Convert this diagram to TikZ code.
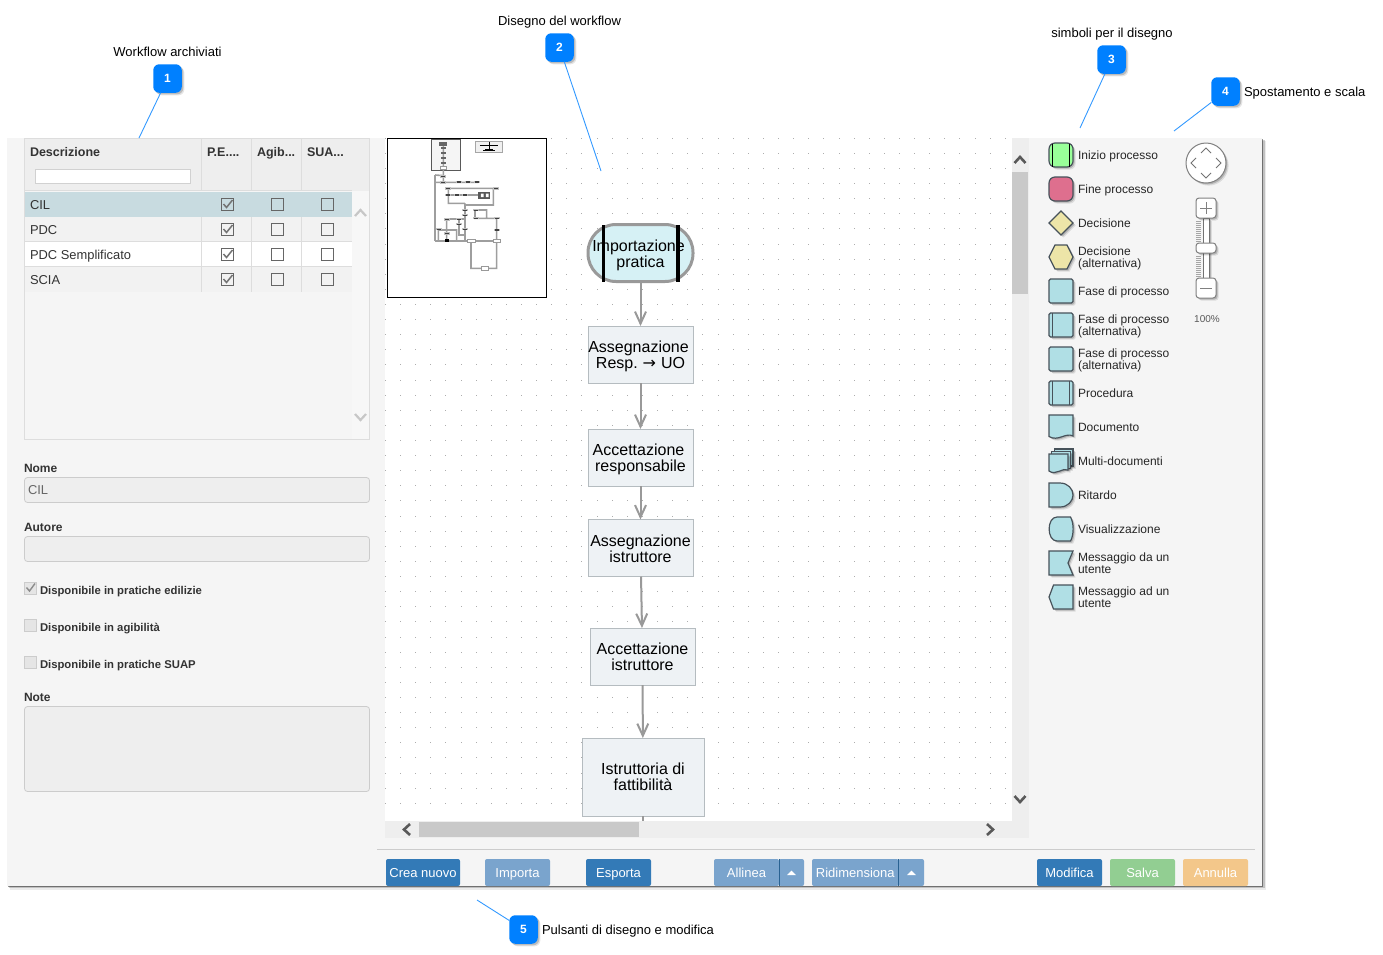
\documentclass[tikz,border=0pt]{standalone}
\usepackage{fontspec}
\setmainfont{Liberation Sans}
\newfontfamily\arrowfont{DejaVu Sans}
\usetikzlibrary{arrows.meta}
\definecolor{panelbg}{HTML}{F5F5F5}
\definecolor{gridline}{HTML}{DDDDDD}
\definecolor{hdr}{HTML}{EEEEEE}
\definecolor{selrow}{HTML}{C8DBE0}
\definecolor{altrow}{HTML}{F2F2F2}
\definecolor{inkdark}{HTML}{333333}
\definecolor{btndark}{HTML}{337AB7}
\definecolor{btnlight}{HTML}{7AA4CD}
\definecolor{btngreen}{HTML}{92CE92}
\definecolor{btnorange}{HTML}{F3C78A}
\definecolor{badgeblue}{HTML}{0080FF}
\definecolor{leader}{HTML}{3399FF}
\definecolor{flowline}{HTML}{999999}
\definecolor{procfill}{HTML}{EEF2F5}
\definecolor{procline}{HTML}{B5BCC0}
\definecolor{startfill}{HTML}{D6F1F5}
\definecolor{palline}{HTML}{47525A}
\definecolor{palblue}{HTML}{B0DFE5}
\definecolor{palyellow}{HTML}{EDE5A8}
\definecolor{palgreen}{HTML}{99FF99}
\definecolor{palpink}{HTML}{DE6F8E}
\definecolor{scrolltrack}{HTML}{EEEEEE}
\definecolor{scrollthumb}{HTML}{C9C9C9}
\newcommand{\flowtop}[1]{\rule{0pt}{#1pt}}
\tikzset{
  x=1pt,y=-1pt,
  softshadow/.style={preaction={fill=black,opacity=.10,draw=none,transform canvas={shift={(2.6pt,-2.6pt)}}},
                     preaction={fill=black,opacity=.18,draw=none,transform canvas={shift={(1.5pt,-1.5pt)}}}},
  caption/.style={inner sep=0,outer sep=0,text=black,anchor=base,font=\fontsize{13}{13}\selectfont},
  badge/.style={softshadow,fill=badgeblue,rounded corners=6pt,minimum size=28.5pt,inner sep=0,outer sep=0,text=white,font=\fontsize{12}{12}\bfseries\selectfont},
  leaderline/.style={draw=leader,line width=.9pt},
  uitext/.style={inner sep=0,outer sep=0,anchor=base west,text=inkdark,font=\fontsize{12.9}{12.9}\selectfont},
  uibold/.style={uitext,font=\fontsize{12.5}{12.5}\bfseries\selectfont},
  formbold/.style={uitext,font=\fontsize{11.3}{12}\bfseries\selectfont},
  inputbox/.style={draw=black!20,fill=hdr,rounded corners=3pt,line width=.8pt},
  tick/.style={draw=black!60,line width=.9pt,fill=none},
  checkmark/.style={draw=black!55,line width=1.5pt},
  disabledbox/.style={draw=black!20,fill=black!10,line width=.7pt},
  flowtext/.style={inner sep=0,outer sep=0,align=center,text=black,font=\fontsize{16}{16}\selectfont},
  flowproc/.style={flowtext,draw=procline,fill=procfill,line width=1pt},
  flowarrow/.style={draw=flowline,line width=2pt,-{Straight Barb[length=12pt,width=11pt]}},
  uibtn/.style={rounded corners=2pt,inner sep=0,outer sep=0,minimum height=27pt,text height=10.5pt,text depth=1.5pt,text=white,font=\fontsize{13}{13}\selectfont},
  palshape/.style={draw=palline,line width=1.2pt,softshadow,fill=#1},
  pallabel/.style={inner sep=0,outer sep=0,anchor=west,align=left,yshift=-.6pt,text=black!85,font=\fontsize{12}{12}\selectfont},
  scrollchev/.style={draw=black!65,line width=2.6pt,line cap=butt},
  lightchev/.style={draw=black!22,line width=2.2pt},
  navchev/.style={draw=black!55,line width=.8pt},
  ctrl/.style={draw=black!50,fill=white,rounded corners=3pt,line width=1pt,softshadow},
  mini/.style={draw=black!38,line width=1.6pt},
  minibox/.style={draw=black!40,fill=white,line width=.6pt},
}
\newcommand{\uibutton}[5]{\node[uibtn,fill=#4,minimum width={#3-#2}] (#1) at ({(#2+#3)/2},872.5) {#5};}
\newcommand{\caretup}[1]{\fill[white] (#1-4.5,875) -- (#1+4.5,875) -- (#1,870.5) -- cycle;}
\begin{document}
\begin{tikzpicture}
\useasboundingbox (0,0) rectangle (1383,954);
% panel
\fill[black,opacity=.08] (10,141) rectangle (1266,890);
\fill[black,opacity=.18] (9,140) rectangle (1264.6,888.4);
\fill[black,opacity=.42] (8,139) rectangle (1263.4,887);
\fill[panelbg] (7,138) rectangle (1262.3,886);
% table
\fill[white!97!black] (24,138) rectangle (370,440);
\fill[panelbg] (24,138) rectangle (352,440);
\fill[hdr] (24,138) rectangle (370,191);
\draw[gridline,line width=1pt] (24,190.5) -- (352,190.5);
\fill[selrow] (25,192) rectangle (352,217);
\fill[altrow] (25,217) rectangle (352,242);
\fill[white] (25,242) rectangle (352,267);
\fill[altrow] (25,267) rectangle (352,292);
\draw[gridline,line width=.9pt] (25,241.5) -- (352,241.5) (25,266.5) -- (352,266.5);
\foreach \cx in {201.5,251.5,301.5} \draw[gridline,line width=1pt] (\cx,138) -- (\cx,191) (\cx,217) -- (\cx,292);
\draw[gridline,line width=1pt] (24.5,138.5) rectangle (369.5,439.5);
\node[uibold,anchor=base west] (hd) at (30,156) {Descrizione};
\node[uibold] (hp) at (207,156) {P.E....};
\node[uibold] (ha) at (257,156) {Agib...};
\node[uibold] (hs) at (307,156) {SUA...};
\draw[draw=black!18,fill=white,line width=1pt] (35.5,169.5) rectangle (190.5,183.5);
\node[uitext] (r1) at (30,209) {CIL};
\node[uitext] (r2) at (30,234) {PDC};
\node[uitext] (r3) at (30,259) {PDC Semplificato};
\node[uitext] (r4) at (30,284) {SCIA};
\foreach \ry in {204,229,254,279}{
  \draw[tick] (221.3,\ry-6) rectangle (233.5,\ry+6);
  \draw[checkmark] (223.5,\ry) -- (226.5,\ry+3.5) -- (232.5,\ry-4);
  \draw[tick] (271.3,\ry-6) rectangle (283.5,\ry+6);
  \draw[tick] (321.3,\ry-6) rectangle (333.5,\ry+6);
}
\draw[lightchev] (355,216) -- (360.5,210) -- (366,216);
\draw[lightchev] (355,414) -- (360.5,420) -- (366,414);
% form
\node[uibold,font=\fontsize{12}{12}\bfseries\selectfont] (lnome) at (24,472) {Nome};
\draw[inputbox] (24.5,477.5) rectangle (369.5,502.5);
\node[uitext,text=black!60] (vnome) at (28,494.5) {CIL};
\node[uibold,font=\fontsize{12}{12}\bfseries\selectfont] (lautore) at (24,531) {Autore};
\draw[inputbox] (24.5,536.5) rectangle (369.5,561.5);
\draw[disabledbox] (24.5,582) rectangle (36.5,594);
\draw[draw=black!45,line width=1.4pt] (26.5,587.5) -- (29.5,591) -- (35,583.5);
\node[formbold] (c1) at (40,594) {Disponibile in pratiche edilizie};
\draw[disabledbox] (24.5,619) rectangle (36.5,631);
\node[formbold] (c2) at (40,631) {Disponibile in agibilità};
\draw[disabledbox] (24.5,656) rectangle (36.5,668);
\node[formbold] (c3) at (40,668) {Disponibile in pratiche SUAP};
\node[uibold,font=\fontsize{12}{12}\bfseries\selectfont] (lnote) at (24,701) {Note};
\draw[inputbox] (24.5,706.5) rectangle (369.5,791.5);
% canvas
\fill[white] (385,138) rectangle (1012,821);
\foreach \j in {0,...,44}
  \foreach \i in {0,...,41}
    \fill[black!32] ({385.4+15.12*\i-.5},{138.2+15.115*\j-.5}) rectangle +(1,1);
% scroll bars
\fill[scrolltrack] (1012,138) rectangle (1029,838);
\fill[scrolltrack] (385,821) rectangle (1029,838);
\fill[scrollthumb] (1012,172) rectangle (1028,294);
\fill[scrollthumb] (419,822) rectangle (639,837);
\draw[scrollchev] (1014.5,163) -- (1020,157) -- (1025.5,163);
\draw[scrollchev] (1014.5,796) -- (1020,802) -- (1025.5,796);
\draw[scrollchev] (410,824) -- (404,829.5) -- (410,835);
\draw[scrollchev] (987,824) -- (993,829.5) -- (987,835);
% minimap
\draw[fill=white,draw=black,line width=1pt] (387.5,138.5) rectangle (546.5,297.5);
\begin{scope}[shift={(385,135)},x=.3333pt,y=-.3333pt]
  \draw[draw=black!65,fill=panelbg,line width=1pt] (139,12) rectangle (226,107);
  \draw[minibox,draw=black!35,fill=black!6] (271,18) rectangle (353,53);
  \draw[black,line width=.7pt] (285,32) -- (340,32) (312,20) -- (312,48) (295,47) -- (330,47);
  \fill[black] (300,42) rectangle (325,49);
  \draw[mini] (175,25) -- (175,140) (150,120) -- (150,318) (150,120) -- (175,122) (150,142) -- (280,142)
    (190,160) -- (325,160) (190,160) -- (190,205) -- (240,205) (190,180) -- (280,180)
    (325,160) -- (325,210) -- (240,210) (240,205) -- (240,318)
    (270,225) -- (305,225) -- (305,250) (270,225) -- (270,250) -- (335,250) -- (335,318)
    (150,318) -- (335,318) (258,318) -- (258,400) -- (335,400) -- (335,318)
    (185,252) -- (240,252) (185,252) -- (185,318) (160,285) -- (215,285) -- (215,318)
    (160,285) -- (160,318) (222,255) -- (222,300) -- (240,300);
  \fill[black!60] (163,20) rectangle (187,32);
  \foreach \yy in {40,55,68,83,98} \fill[black!60] (168,\yy-3) rectangle (182,\yy+3);
  \draw[minibox] (166,94) rectangle (184,102);
  \foreach \bx/\by in {175/124,175/142,222/141,250/141,277/141,190/160,190/180,215/180,240/180,332/160,240/226,272/226,240/241,272/250,335/250,185/254,222/253,222/268,335/285,162/283,185/296,240/283}
    {\fill[black!25] (\bx-9,\by-3.5) rectangle (\bx+9,\by+3.5); \fill[black!75] (\bx-6,\by-2) rectangle (\bx+6,\by+2);}
  \fill[black!65] (280,170) rectangle (316,192);
  \fill[white] (288,176) rectangle (296,186) (303,176) rectangle (311,186);
  \draw[minibox] (248,313) rectangle (270,323);
  \draw[minibox] (288,395) rectangle (310,405);
  \draw[minibox] (325,314) rectangle (345,322);
  \fill[black] (181,312) rectangle (191,322);
\end{scope}
% flow
\node[flowtext,draw=flowline,line width=3pt,fill=startfill,rounded corners=28pt,minimum width=105pt,minimum height=57pt] (start) at (640.5,253) {};
\fill[black] ([xshift=-38.7pt]start.north) rectangle ([xshift=-35.2pt]start.south);
\fill[black] ([xshift=35.8pt]start.north) rectangle ([xshift=39.3pt]start.south);
\node[flowtext] (starttext) at (640.5,253) {\flowtop{15.6}Importazione\kern4pt\\pratica};
\node[flowproc,minimum width=105pt,minimum height=57pt] (n1) at (640.5,354.5) {\flowtop{14.6}Assegnazione\kern4pt\\Resp.\kern.5pt\ {\arrowfont →}\kern.5pt\ UO};
\node[flowproc,minimum width=105pt,minimum height=57pt] (n2) at (640.5,457.5) {\flowtop{14.6}Accettazione\kern4pt\\responsabile};
\node[flowproc,minimum width=105pt,minimum height=57pt] (n3) at (640.5,548) {\flowtop{13.6}Assegnazione\\istruttore};
\node[flowproc,minimum width=105pt,minimum height=57pt] (n4) at (642.5,656.5) {Accettazione\\istruttore};
\node[flowproc,minimum width=122pt,minimum height=78pt] (n5) at (643,777) {Istruttoria di\\fattibilità};
\coordinate (flowend) at (643,821);
\draw[flowarrow] (start) -- (n1);
\draw[flowarrow] (n1) -- (n2);
\draw[flowarrow] (n2) -- (n3);
\draw[flowarrow] (n3) -- (n4);
\draw[flowarrow] (n4) -- (n5);
\draw[draw=flowline,line width=2pt] (n5) -- (flowend);
% separator and buttons
\draw[black!20,line width=1pt] (377,849) -- (1255,849);
\uibutton{bcrea}{386}{460}{btndark}{Crea nuovo}
\uibutton{bimp}{485}{550}{btnlight}{Importa}
\uibutton{besp}{586}{651}{btndark}{Esporta}
\uibutton{ball}{714}{779}{btnlight}{Allinea}
\uibutton{ballc}{779}{804}{btnlight}{}
\uibutton{brid}{812}{898.5}{btnlight}{Ridimensiona}
\uibutton{bridc}{898.5}{924}{btnlight}{}
\draw[btndark!80!black,line width=.8pt] (779,859) -- (779,886) (898.5,859) -- (898.5,886);
\caretup{791.5}
\caretup{911.5}
\uibutton{bmod}{1037}{1102}{btndark}{Modifica}
\uibutton{bsal}{1110}{1175}{btngreen}{Salva}
\uibutton{bann}{1183}{1248}{btnorange}{Annulla}
% palette
\begin{scope}[shift={(1049,143)}]
  \draw[palshape=palgreen,rounded corners=6pt] (0,0) rectangle (24,24);
  \draw[black,line width=1pt] (3.7,.5) -- (3.7,23.5) (20.3,.5) -- (20.3,23.5);
\end{scope}
\begin{scope}[shift={(1049,177)}]
  \draw[palshape=palpink,rounded corners=6pt] (0,0) rectangle (24,24);
\end{scope}
\begin{scope}[shift={(1049,211)}]
  \draw[palshape=palyellow] (12,0) -- (24,12) -- (12,24) -- (0,12) -- cycle;
\end{scope}
\begin{scope}[shift={(1049,245)}]
  \draw[palshape=palyellow] (6,0) -- (18,0) -- (24,12) -- (18,24) -- (6,24) -- (0,12) -- cycle;
\end{scope}
\begin{scope}[shift={(1049,279)}]
  \draw[palshape=palblue,rounded corners=1.5pt] (0,0) rectangle (24,24);
\end{scope}
\begin{scope}[shift={(1049,313)}]
  \draw[palshape=palblue,rounded corners=1.5pt] (0,0) rectangle (24,24);
  \draw[palline,line width=1pt] (3.7,0) -- (3.7,24);
\end{scope}
\begin{scope}[shift={(1049,347)}]
  \draw[palshape=palblue,rounded corners=1.5pt] (0,0) rectangle (24,24);
\end{scope}
\begin{scope}[shift={(1049,381)}]
  \draw[palshape=palblue,rounded corners=1.5pt] (0,0) rectangle (24,24);
  \draw[palline,line width=1pt] (3.7,0) -- (3.7,24) (20.3,0) -- (20.3,24);
\end{scope}
\begin{scope}[shift={(1049,415)}]
  \draw[palshape=palblue] (0,0) -- (24,0) -- (24,21) .. controls (17,17) and (9,27) .. (0,21.5) -- cycle;
\end{scope}
\begin{scope}[shift={(1049,449)}]
  \draw[palshape=palblue] (5.5,0) -- (24,0) -- (24,17) -- (5.5,17) -- cycle;
  \draw[palshape=palblue] (2.7,2.5) -- (21.5,2.5) -- (21.5,19.5) -- (2.7,19.5) -- cycle;
  \draw[palshape=palblue] (0,5) -- (19,5) -- (19,21) .. controls (14,18) and (7,27) .. (0,22) -- cycle;
\end{scope}
\begin{scope}[shift={(1049,483)}]
  \draw[palshape=palblue] (0,0) -- (11,0) .. controls (19,0) and (24,6) .. (24,12) .. controls (24,18) and (19,24) .. (11,24) -- (0,24) -- cycle;
\end{scope}
\begin{scope}[shift={(1049,517)}]
  \draw[palshape=palblue] (8,0) -- (21.5,0) .. controls (25,6) and (25,18) .. (21.5,24) -- (8,24) .. controls (-2.5,24) and (-2.5,0) .. (8,0) -- cycle;
\end{scope}
\begin{scope}[shift={(1049,551)}]
  \draw[palshape=palblue] (0,0) -- (24,0) -- (19,12) -- (24,24) -- (0,24) -- cycle;
\end{scope}
\begin{scope}[shift={(1049,585)}]
  \draw[palshape=palblue] (4.5,0) -- (24,0) -- (24,24) -- (4.5,24) -- (0,12) -- cycle;
\end{scope}
\node[pallabel] (p1) at (1078,156) {Inizio processo};
\node[pallabel] (p2) at (1078,190) {Fine processo};
\node[pallabel] (p3) at (1078,223) {Decisione};
\node[pallabel] (p4) at (1078,258) {Decisione\\(alternativa)};
\node[pallabel] (p5) at (1078,292) {Fase di processo};
\node[pallabel] (p6) at (1078,326) {Fase di processo\\(alternativa)};
\node[pallabel] (p7) at (1078,360) {Fase di processo\\(alternativa)};
\node[pallabel] (p8) at (1078,393) {Procedura};
\node[pallabel] (p9) at (1078,427) {Documento};
\node[pallabel] (p10) at (1078,461) {Multi-documenti};
\node[pallabel] (p11) at (1078,495) {Ritardo};
\node[pallabel] (p12) at (1078,529) {Visualizzazione};
\node[pallabel] (p13) at (1078,563) {Messaggio da un\\utente};
\node[pallabel] (p14) at (1078,597) {Messaggio ad un\\utente};
% navigation
\draw[ctrl] (1206,163) circle (20);
\draw[navchev] (1201,153) -- (1206,148) -- (1211,153) (1201,173) -- (1206,178) -- (1211,173)
  (1196,158) -- (1191,163) -- (1196,168) (1216,158) -- (1221,163) -- (1216,168);
\foreach \ty in {221,223,...,241,256,258,...,276} \draw[black!35,line width=.8pt] (1196,\ty) -- (1201,\ty);
\draw[draw=black!55,fill=white,line width=1pt,softshadow] (1203,218) rectangle (1209,278);
\draw[ctrl] (1196,198) rectangle (1216,218);
\draw[black!50,line width=1pt] (1200,208) -- (1212,208) (1206,202) -- (1206,214);
\draw[ctrl] (1196,243) rectangle (1216,253);
\draw[ctrl] (1196,278) rectangle (1216,298);
\draw[black!50,line width=1pt] (1200,288) -- (1212,288);
\node[inner sep=0,outer sep=0,text=black!65,font=\fontsize{10}{10}\selectfont] (zoomlabel) at (1207,319) {100\%};
% callouts
\coordinate (t1) at (139,138);
\coordinate (t2) at (601,171);
\coordinate (t3) at (1080,128);
\coordinate (t4) at (1174,131);
\coordinate (t5) at (477,900);
\node[badge] (b1) at (167.5,78.5) {1};
\node[badge] (b2) at (559.5,47.5) {2};
\node[badge] (b3) at (1111.5,59.5) {3};
\node[badge] (b4) at (1225.5,91.5) {4};
\node[badge] (b5) at (523.5,929.5) {5};
\draw[leaderline] (b1) -- (t1);
\draw[leaderline] (b2) -- (t2);
\draw[leaderline] (b3) -- (t3);
\draw[leaderline] (b4) -- (t4);
\draw[leaderline] (b5) -- (t5);
\node[caption] (c1t) at (167.5,56) {Workflow archiviati};
\node[caption] (c2t) at (559.5,25) {Disegno del workflow};
\node[caption] (c3t) at (1112,37) {simboli per il disegno};
\node[caption,anchor=base west] (c4t) at (1244,96) {Spostamento e scala};
\node[caption,anchor=base west] (c5t) at (542,934) {Pulsanti di disegno e modifica};
\end{tikzpicture}
\end{document}
